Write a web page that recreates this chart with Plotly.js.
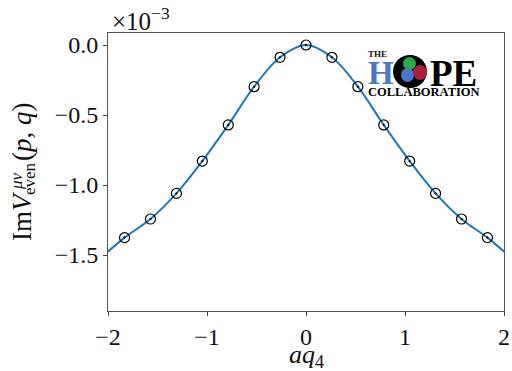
<!DOCTYPE html>
<html><head><meta charset="utf-8">
<script src="https://cdn.plot.ly/plotly-3.0.1.min.js"></script>
<style>html,body{margin:0;padding:0;background:#fff}#plot{width:512px;height:371px}</style>
</head><body><div id="plot"></div>
<script>
// data points (aq4, Im V in units of 1e-3)
const dataX = [-1.833, -1.571, -1.309, -1.047, -0.785, -0.524, -0.262, 0, 0.262, 0.524, 0.785, 1.047, 1.309, 1.571, 1.833];
const dataY = [-1.376, -1.243, -1.060, -0.829, -0.571, -0.298, -0.088, 0.000, -0.088, -0.298, -0.571, -0.829, -1.060, -1.243, -1.376];
// fitted curve samples
const curveX = [-2, -1.833, -1.571, -1.309, -1.047, -0.785, -0.524, -0.262, 0, 0.262, 0.524, 0.785, 1.047, 1.309, 1.571, 1.833, 2];
const curveY = [-1.476, -1.376, -1.243, -1.060, -0.829, -0.571, -0.298, -0.088, 0.000, -0.088, -0.298, -0.571, -0.829, -1.060, -1.243, -1.376, -1.476];
const yTickVals = [0, -0.5, -1.0, -1.5];
const yTickText = ["0.0", "\u22120.5", "\u22121.0", "\u22121.5"];
const xTickVals = [-2, -1, 0, 1, 2];
const xTickText = ["\u22122", "\u22121", "0", "1", "2"];

const scale = 1e-3;
const F = "'Liberation Serif', 'Times New Roman', serif";

// plot-area pixel geometry helpers for annotations
const L = 108, T = 33, W = 396, H = 278;
const px = x => (x - L) / W;
const py = y => (T + H - y) / H;

const traces = [
  {x: curveX, y: curveY.map(v => v*scale), mode: 'lines', line: {color: '#1f77b4', width: 2, shape: 'spline', smoothing: 1}, hoverinfo: 'skip'},
  {x: dataX, y: dataY.map(v => v*scale), mode: 'markers', marker: {symbol: 'circle-open-dot', size: 10, color: 'black', line: {width: 1.2, color: 'black'}}}
];

function ann(x, y, text, size, color, extra) {
  return Object.assign({xref: 'paper', yref: 'paper', x: px(x), y: py(y), xanchor: 'center', yanchor: 'middle',
    showarrow: false, borderpad: 0, text: text, font: {size: size, family: F, color: color || '#111'}}, extra || {});
}

const layout = {
  width: 512, height: 371,
  margin: {l: L, r: 512 - L - W, t: T, b: 371 - T - H},
  paper_bgcolor: '#fff', plot_bgcolor: '#fff',
  showlegend: false,
  font: {family: F, color: '#111'},
  xaxis: {range: [-2, 2], tickvals: xTickVals, ticktext: xTickText, ticks: 'outside', ticklen: 4, tickcolor: '#444',
          showline: true, linecolor: '#555', linewidth: 1, mirror: true, showgrid: false, zeroline: false,
          tickfont: {size: 24, family: F}},
  yaxis: {range: [-1.9e-3, 0.0857e-3], tickvals: yTickVals.map(v => v*scale), ticktext: yTickText, ticks: 'outside', ticklen: 4, tickcolor: '#444',
          showline: true, linecolor: '#555', linewidth: 1, mirror: true, showgrid: false, zeroline: false,
          tickfont: {size: 24, family: F}},
  annotations: [
    // exponent
    ann(141, 19, '\u00d710<sup>\u22123</sup>', 25),
    // x title
    ann(306, 356, '<i>aq</i><sub>4</sub>', 26),
    // y title pieces (rotated)
    ann(22, 216, 'Im<i>V</i>', 27, '#111', {textangle: -90}),
    ann(16, 181, '<i>\u03bc\u03bd</i>', 17, '#111', {textangle: -90}),
    ann(29, 179, 'even', 17, '#111', {textangle: -90}),
    ann(22, 132, '(<i>p</i>, <i>q</i>)', 27, '#111', {textangle: -90}),
    // logo
    ann(377, 54, '<b>THE</b>', 9),
    ann(381, 73, '<b>H</b>', 33, '#4a78c8'),
    ann(453, 73, '<b>PE</b>', 37, '#000'),
    ann(424, 92, '<b>COLLABORATION</b>', 12.5, '#000')
  ],
  shapes: [
    {type: 'circle', xref: 'paper', yref: 'paper', x0: px(393), x1: px(427), y0: py(88), y1: py(55), fillcolor: '#000', line: {width: 0}},
    {type: 'circle', xref: 'paper', yref: 'paper', x0: px(403), x1: px(416), y0: py(70), y1: py(57), fillcolor: '#2ea84a', line: {width: 0}},
    {type: 'circle', xref: 'paper', yref: 'paper', x0: px(401), x1: px(414), y0: py(82), y1: py(68), fillcolor: '#4a78c8', line: {width: 0}},
    {type: 'circle', xref: 'paper', yref: 'paper', x0: px(413), x1: px(427), y0: py(80), y1: py(65), fillcolor: '#a8223a', line: {width: 0}}
  ]
};
Plotly.newPlot('plot', traces, layout, {displayModeBar: false, staticPlot: true});
</script></body></html>
